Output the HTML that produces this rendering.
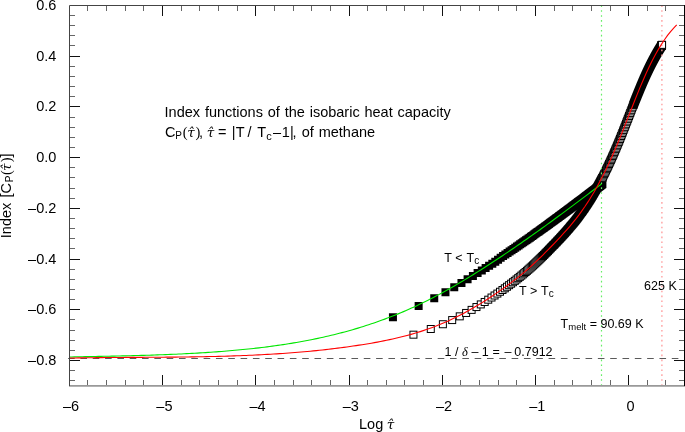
<!DOCTYPE html>
<html><head><meta charset="utf-8"><style>
html,body{margin:0;padding:0;background:#fff;}
svg{display:block;}
text{font-family:"Liberation Sans",Arial,sans-serif;fill:#000;}
.s{font-family:"Liberation Serif","Times New Roman",serif;}
.si{font-family:"Liberation Serif","Times New Roman",serif;font-style:italic;}
.ti{font-family:"DejaVu Serif","Liberation Serif",serif;font-style:italic;font-size:13.5px;}
</style></head><body>
<svg width="685" height="432" viewBox="0 0 685 432">
<rect width="685" height="432" fill="#fff"/>
<line x1="68.1" y1="358.5" x2="684" y2="358.5" stroke="#5a5a5a" stroke-width="1.15" stroke-dasharray="6.6 5.72"/>
<path d="M388.94 313.16h8v8h-8zM414.64 302.00h8v8h-8zM430.24 294.21h8v8h-8zM441.47 288.15h8v8h-8zM450.26 283.18h8v8h-8zM457.47 278.96h8v8h-8zM463.59 275.28h8v8h-8zM468.90 272.02h8v8h-8zM473.60 269.09h8v8h-8zM477.81 266.43h8v8h-8zM481.62 263.99h8v8h-8zM485.11 261.74h8v8h-8zM488.32 259.65h8v8h-8zM491.29 257.69h8v8h-8zM494.06 255.86h8v8h-8zM496.65 253.64h8v8h-8zM499.09 252.01h8v8h-8zM501.38 250.47h8v8h-8zM503.56 249.00h8v8h-8zM505.62 247.60h8v8h-8zM507.58 246.27h8v8h-8zM509.46 244.99h8v8h-8zM511.25 243.76h8v8h-8zM512.96 242.58h8v8h-8zM514.60 241.44h8v8h-8zM516.18 240.35h8v8h-8zM517.70 239.29h8v8h-8zM519.17 238.27h8v8h-8zM520.58 237.29h8v8h-8zM521.95 236.33h8v8h-8zM523.27 235.40h8v8h-8zM524.55 234.50h8v8h-8zM525.79 233.63h8v8h-8zM527.00 232.78h8v8h-8zM528.17 231.95h8v8h-8zM529.30 231.14h8v8h-8zM530.41 230.36h8v8h-8zM531.49 229.59h8v8h-8zM532.53 228.85h8v8h-8zM533.56 228.12h8v8h-8zM534.55 227.40h8v8h-8zM535.53 226.71h8v8h-8zM536.48 226.02h8v8h-8zM537.40 225.36h8v8h-8zM538.31 224.70h8v8h-8zM539.20 224.07h8v8h-8zM540.07 223.44h8v8h-8zM540.92 222.82h8v8h-8zM541.75 222.22h8v8h-8zM542.57 221.63h8v8h-8zM543.37 221.05h8v8h-8zM544.15 220.48h8v8h-8zM544.92 219.92h8v8h-8zM545.67 219.37h8v8h-8zM546.41 218.83h8v8h-8zM547.14 218.30h8v8h-8zM547.86 217.78h8v8h-8zM548.56 217.26h8v8h-8zM549.25 216.76h8v8h-8zM549.93 216.26h8v8h-8zM550.60 215.77h8v8h-8zM551.25 215.29h8v8h-8zM551.90 214.81h8v8h-8zM552.54 214.35h8v8h-8zM553.16 213.88h8v8h-8zM553.78 213.43h8v8h-8zM554.39 212.98h8v8h-8zM554.99 212.54h8v8h-8zM555.58 212.11h8v8h-8zM556.16 211.68h8v8h-8zM556.73 211.25h8v8h-8zM557.30 210.83h8v8h-8zM557.86 210.42h8v8h-8zM558.41 210.02h8v8h-8zM558.95 209.61h8v8h-8zM559.48 209.22h8v8h-8zM560.01 208.82h8v8h-8zM560.53 208.44h8v8h-8zM561.05 208.06h8v8h-8zM561.56 207.68h8v8h-8zM562.06 207.30h8v8h-8zM562.55 206.94h8v8h-8zM563.04 206.57h8v8h-8zM563.53 206.21h8v8h-8zM564.01 205.86h8v8h-8zM564.48 205.50h8v8h-8zM564.95 205.15h8v8h-8zM565.41 204.81h8v8h-8zM565.87 204.47h8v8h-8zM566.32 204.13h8v8h-8zM566.77 203.80h8v8h-8zM567.21 203.47h8v8h-8zM567.64 203.14h8v8h-8zM568.08 202.82h8v8h-8zM568.50 202.50h8v8h-8zM568.93 202.18h8v8h-8zM569.35 201.87h8v8h-8zM569.76 201.56h8v8h-8zM570.17 201.25h8v8h-8zM570.58 200.95h8v8h-8zM570.98 200.65h8v8h-8zM571.38 200.35h8v8h-8zM571.77 200.05h8v8h-8zM572.16 199.76h8v8h-8zM572.55 199.47h8v8h-8zM572.93 199.18h8v8h-8zM573.31 198.90h8v8h-8zM573.69 198.62h8v8h-8zM574.06 198.34h8v8h-8zM574.43 198.06h8v8h-8zM574.80 197.79h8v8h-8zM575.16 197.51h8v8h-8zM575.52 197.24h8v8h-8zM575.88 196.98h8v8h-8zM576.23 196.71h8v8h-8zM576.58 196.45h8v8h-8zM576.93 196.19h8v8h-8zM577.27 195.93h8v8h-8zM577.61 195.67h8v8h-8zM577.95 195.42h8v8h-8zM578.29 195.16h8v8h-8zM578.62 194.91h8v8h-8zM578.95 194.67h8v8h-8zM579.28 194.42h8v8h-8zM579.60 194.17h8v8h-8zM579.93 193.93h8v8h-8zM580.25 193.69h8v8h-8zM580.56 193.45h8v8h-8zM580.88 193.22h8v8h-8zM581.19 192.98h8v8h-8zM581.50 192.75h8v8h-8zM581.81 192.52h8v8h-8zM582.11 192.29h8v8h-8zM582.42 192.06h8v8h-8zM582.72 191.83h8v8h-8zM583.01 191.61h8v8h-8zM583.31 191.38h8v8h-8zM583.61 191.16h8v8h-8zM583.90 190.94h8v8h-8zM584.19 190.72h8v8h-8zM584.48 190.51h8v8h-8zM584.76 190.29h8v8h-8zM585.04 190.08h8v8h-8zM585.33 189.86h8v8h-8zM585.61 189.65h8v8h-8zM585.88 189.44h8v8h-8zM586.16 189.23h8v8h-8zM586.44 189.03h8v8h-8zM586.71 188.82h8v8h-8zM586.98 188.62h8v8h-8zM587.25 188.42h8v8h-8zM587.51 188.21h8v8h-8zM587.78 188.01h8v8h-8zM588.04 187.81h8v8h-8zM588.30 187.62h8v8h-8zM588.56 187.42h8v8h-8zM588.82 187.23h8v8h-8zM589.08 187.03h8v8h-8zM589.34 186.84h8v8h-8zM589.59 186.65h8v8h-8zM589.84 186.46h8v8h-8zM590.09 186.27h8v8h-8zM590.34 186.08h8v8h-8zM590.59 185.89h8v8h-8zM590.83 185.71h8v8h-8zM591.08 185.52h8v8h-8zM591.32 185.34h8v8h-8zM591.56 185.16h8v8h-8zM591.80 184.98h8v8h-8zM592.04 184.80h8v8h-8zM592.28 184.62h8v8h-8zM592.52 184.44h8v8h-8zM592.75 184.26h8v8h-8zM592.98 184.09h8v8h-8zM593.21 183.91h8v8h-8zM593.45 183.74h8v8h-8zM593.67 183.56h8v8h-8zM593.90 183.39h8v8h-8zM594.13 183.22h8v8h-8zM594.35 183.05h8v8h-8zM594.58 182.88h8v8h-8zM594.80 182.71h8v8h-8zM595.02 182.55h8v8h-8zM595.24 182.38h8v8h-8zM595.46 182.21h8v8h-8zM595.68 182.05h8v8h-8zM595.90 181.89h8v8h-8zM596.11 181.72h8v8h-8zM596.33 181.56h8v8h-8zM596.54 181.40h8v8h-8zM596.75 181.24h8v8h-8zM596.97 181.08h8v8h-8zM597.18 180.92h8v8h-8zM597.39 180.76h8v8h-8zM597.59 180.61h8v8h-8zM597.80 180.45h8v8h-8zM598.01 180.29h8v8h-8zM598.21 180.14h8v8h-8zM598.41 179.99h8v8h-8z" fill="#000"/>
<g fill="#fff" stroke="#000" stroke-width="1"><rect x="409.95" y="331.18" width="7" height="7"/><rect x="427.28" y="325.50" width="7" height="7"/><rect x="439.38" y="320.74" width="7" height="7"/><rect x="448.68" y="316.57" width="7" height="7"/><rect x="456.24" y="312.84" width="7" height="7"/><rect x="462.61" y="309.46" width="7" height="7"/><rect x="468.11" y="306.38" width="7" height="7"/><rect x="472.95" y="303.55" width="7" height="7"/><rect x="477.28" y="300.92" width="7" height="7"/><rect x="481.18" y="298.48" width="7" height="7"/><rect x="484.74" y="296.19" width="7" height="7"/><rect x="488.02" y="294.04" width="7" height="7"/><rect x="491.05" y="292.00" width="7" height="7"/><rect x="493.87" y="290.08" width="7" height="7"/><rect x="496.50" y="288.25" width="7" height="7"/><rect x="498.98" y="286.50" width="7" height="7"/><rect x="501.31" y="284.83" width="7" height="7"/><rect x="503.51" y="283.23" width="7" height="7"/><rect x="505.60" y="281.68" width="7" height="7"/><rect x="507.59" y="280.19" width="7" height="7"/><rect x="509.48" y="278.74" width="7" height="7"/><rect x="511.29" y="277.34" width="7" height="7"/><rect x="513.03" y="275.98" width="7" height="7"/><rect x="514.69" y="274.65" width="7" height="7"/><rect x="516.28" y="273.36" width="7" height="7"/><rect x="517.82" y="272.11" width="7" height="7"/><rect x="519.30" y="270.88" width="7" height="7"/><rect x="520.73" y="269.68" width="7" height="7"/><rect x="522.11" y="268.50" width="7" height="7"/><rect x="523.44" y="267.35" width="7" height="7"/><rect x="524.73" y="266.22" width="7" height="7"/><rect x="525.98" y="265.12" width="7" height="7"/><rect x="527.19" y="264.03" width="7" height="7"/><rect x="528.37" y="262.96" width="7" height="7"/><rect x="529.52" y="261.92" width="7" height="7"/><rect x="530.63" y="260.89" width="7" height="7"/><rect x="531.71" y="259.88" width="7" height="7"/><rect x="532.77" y="258.88" width="7" height="7"/><rect x="533.80" y="257.91" width="7" height="7"/><rect x="534.80" y="256.95" width="7" height="7"/><rect x="535.78" y="256.01" width="7" height="7"/><rect x="536.73" y="255.08" width="7" height="7"/><rect x="537.67" y="254.17" width="7" height="7"/></g>
<path d="M538.08 252.77h8v8h-8zM538.97 251.89h8v8h-8zM539.85 251.03h8v8h-8zM540.70 250.17h8v8h-8zM541.54 249.33h8v8h-8zM542.36 248.51h8v8h-8zM543.16 247.69h8v8h-8zM543.95 246.89h8v8h-8zM544.72 246.10h8v8h-8zM545.48 245.33h8v8h-8zM546.23 244.56h8v8h-8zM546.96 243.80h8v8h-8zM547.68 243.06h8v8h-8zM548.38 242.33h8v8h-8zM549.08 241.61h8v8h-8zM549.76 240.89h8v8h-8zM550.43 240.19h8v8h-8zM551.09 239.50h8v8h-8zM551.74 238.81h8v8h-8zM552.38 238.14h8v8h-8zM553.00 237.47h8v8h-8zM553.62 236.82h8v8h-8zM554.23 236.17h8v8h-8zM554.84 235.53h8v8h-8zM555.43 234.89h8v8h-8zM556.01 234.27h8v8h-8zM556.59 233.65h8v8h-8zM557.15 233.03h8v8h-8zM557.71 232.42h8v8h-8zM558.27 231.82h8v8h-8zM558.81 231.23h8v8h-8zM559.35 230.63h8v8h-8zM559.88 230.05h8v8h-8zM560.40 229.47h8v8h-8zM560.92 228.89h8v8h-8zM561.43 228.32h8v8h-8zM561.93 227.75h8v8h-8zM562.43 227.19h8v8h-8zM562.92 226.63h8v8h-8zM563.41 226.08h8v8h-8zM563.89 225.53h8v8h-8zM564.36 224.98h8v8h-8zM564.83 224.44h8v8h-8zM565.29 223.89h8v8h-8zM565.75 223.36h8v8h-8zM566.20 222.82h8v8h-8zM566.65 222.29h8v8h-8zM567.09 221.76h8v8h-8zM567.53 221.24h8v8h-8zM567.97 220.72h8v8h-8zM568.40 220.20h8v8h-8zM568.82 219.68h8v8h-8zM569.24 219.17h8v8h-8zM569.66 218.65h8v8h-8zM570.07 218.15h8v8h-8zM570.47 217.64h8v8h-8zM570.88 217.13h8v8h-8zM571.28 216.63h8v8h-8zM571.67 216.13h8v8h-8zM572.06 215.63h8v8h-8zM572.45 215.13h8v8h-8zM572.84 214.64h8v8h-8zM573.22 214.15h8v8h-8zM573.59 213.66h8v8h-8zM573.97 213.17h8v8h-8zM574.34 212.68h8v8h-8zM574.71 212.19h8v8h-8zM575.07 211.71h8v8h-8zM575.43 211.23h8v8h-8zM575.79 210.75h8v8h-8zM576.14 210.27h8v8h-8zM576.49 209.79h8v8h-8zM576.84 209.31h8v8h-8zM577.18 208.84h8v8h-8zM577.53 208.37h8v8h-8zM577.87 207.89h8v8h-8zM578.20 207.42h8v8h-8zM578.54 206.95h8v8h-8zM578.87 206.49h8v8h-8zM579.19 206.02h8v8h-8zM579.52 205.55h8v8h-8zM579.84 205.09h8v8h-8zM580.16 204.63h8v8h-8zM580.48 204.17h8v8h-8zM580.80 203.71h8v8h-8zM581.11 203.25h8v8h-8zM581.42 202.79h8v8h-8zM581.73 202.33h8v8h-8zM582.03 201.87h8v8h-8zM582.34 201.42h8v8h-8zM582.64 200.97h8v8h-8zM582.94 200.51h8v8h-8zM583.24 200.06h8v8h-8zM583.53 199.61h8v8h-8zM583.82 199.16h8v8h-8zM584.11 198.71h8v8h-8zM584.40 198.26h8v8h-8zM584.69 197.82h8v8h-8zM584.97 197.37h8v8h-8zM585.25 196.92h8v8h-8zM585.54 196.48h8v8h-8zM585.81 196.04h8v8h-8zM586.09 195.59h8v8h-8zM586.37 195.15h8v8h-8zM586.64 194.71h8v8h-8zM586.91 194.27h8v8h-8zM587.18 193.83h8v8h-8zM587.45 193.39h8v8h-8zM587.71 192.95h8v8h-8zM587.98 192.52h8v8h-8zM588.24 192.08h8v8h-8zM588.50 191.65h8v8h-8zM588.76 191.21h8v8h-8zM589.01 190.78h8v8h-8zM589.27 190.34h8v8h-8zM589.52 189.91h8v8h-8zM589.78 189.48h8v8h-8zM590.03 189.05h8v8h-8zM590.28 188.62h8v8h-8zM590.53 188.19h8v8h-8zM590.77 187.76h8v8h-8zM591.02 187.34h8v8h-8zM591.26 186.91h8v8h-8zM591.50 186.49h8v8h-8zM591.74 186.06h8v8h-8zM591.98 185.64h8v8h-8zM592.22 185.22h8v8h-8zM592.45 184.79h8v8h-8zM592.69 184.37h8v8h-8zM592.92 183.95h8v8h-8zM593.16 183.53h8v8h-8zM593.39 183.12h8v8h-8zM593.62 182.70h8v8h-8zM593.84 182.28h8v8h-8zM594.07 181.86h8v8h-8zM594.30 181.45h8v8h-8zM594.52 181.04h8v8h-8zM594.74 180.62h8v8h-8zM594.97 180.21h8v8h-8zM595.19 179.80h8v8h-8zM595.41 179.39h8v8h-8zM595.63 178.98h8v8h-8zM595.84 178.57h8v8h-8zM596.06 178.16h8v8h-8zM596.27 177.75h8v8h-8zM596.49 177.35h8v8h-8zM596.70 176.94h8v8h-8zM596.91 176.54h8v8h-8zM597.12 176.13h8v8h-8zM597.33 175.73h8v8h-8zM597.54 175.33h8v8h-8zM597.75 174.92h8v8h-8zM597.95 174.52h8v8h-8zM598.16 174.12h8v8h-8z" fill="#000"/>
<g fill="#fff" stroke="#000" stroke-width="1"><rect x="598.86" y="174.22" width="7" height="7"/><rect x="599.47" y="173.03" width="7" height="7"/><rect x="600.07" y="171.83" width="7" height="7"/><rect x="600.68" y="170.62" width="7" height="7"/><rect x="601.29" y="169.39" width="7" height="7"/><rect x="601.89" y="168.16" width="7" height="7"/><rect x="602.50" y="166.92" width="7" height="7"/><rect x="603.10" y="165.66" width="7" height="7"/><rect x="603.71" y="164.40" width="7" height="7"/><rect x="604.32" y="163.12" width="7" height="7"/><rect x="604.92" y="161.84" width="7" height="7"/><rect x="605.53" y="160.54" width="7" height="7"/><rect x="606.13" y="159.24" width="7" height="7"/><rect x="606.74" y="157.92" width="7" height="7"/><rect x="607.35" y="156.59" width="7" height="7"/><rect x="607.95" y="155.26" width="7" height="7"/><rect x="608.56" y="153.91" width="7" height="7"/><rect x="609.16" y="152.55" width="7" height="7"/><rect x="609.77" y="151.19" width="7" height="7"/><rect x="610.38" y="149.81" width="7" height="7"/><rect x="610.98" y="148.42" width="7" height="7"/><rect x="611.59" y="147.02" width="7" height="7"/><rect x="612.19" y="145.61" width="7" height="7"/><rect x="612.80" y="144.20" width="7" height="7"/><rect x="613.41" y="142.77" width="7" height="7"/><rect x="614.01" y="141.33" width="7" height="7"/><rect x="614.62" y="139.88" width="7" height="7"/><rect x="615.22" y="138.42" width="7" height="7"/><rect x="615.83" y="136.95" width="7" height="7"/><rect x="616.44" y="135.47" width="7" height="7"/><rect x="617.04" y="133.99" width="7" height="7"/><rect x="617.65" y="132.49" width="7" height="7"/><rect x="618.25" y="130.99" width="7" height="7"/><rect x="618.86" y="129.47" width="7" height="7"/><rect x="619.47" y="127.95" width="7" height="7"/><rect x="620.07" y="126.43" width="7" height="7"/><rect x="620.68" y="124.90" width="7" height="7"/><rect x="621.28" y="123.36" width="7" height="7"/><rect x="621.89" y="121.82" width="7" height="7"/><rect x="622.50" y="120.28" width="7" height="7"/><rect x="623.10" y="118.73" width="7" height="7"/><rect x="623.71" y="117.19" width="7" height="7"/><rect x="624.31" y="115.63" width="7" height="7"/><rect x="624.92" y="114.08" width="7" height="7"/><rect x="625.53" y="112.53" width="7" height="7"/><rect x="626.13" y="110.98" width="7" height="7"/><rect x="626.74" y="109.43" width="7" height="7"/><rect x="627.34" y="107.88" width="7" height="7"/><rect x="627.95" y="106.33" width="7" height="7"/><rect x="628.56" y="104.78" width="7" height="7"/><rect x="629.16" y="103.24" width="7" height="7"/><rect x="629.77" y="101.70" width="7" height="7"/></g>
<path d="M629.48 100.67h8v8h-8zM629.57 100.43h8v8h-8zM629.67 100.19h8v8h-8zM629.76 99.95h8v8h-8zM629.85 99.72h8v8h-8zM629.95 99.48h8v8h-8zM630.04 99.25h8v8h-8zM630.13 99.01h8v8h-8zM630.23 98.78h8v8h-8zM630.32 98.54h8v8h-8zM630.41 98.31h8v8h-8zM630.50 98.08h8v8h-8zM630.60 97.85h8v8h-8zM630.69 97.62h8v8h-8zM630.78 97.39h8v8h-8zM630.87 97.16h8v8h-8zM630.96 96.93h8v8h-8zM631.05 96.70h8v8h-8zM631.14 96.47h8v8h-8zM631.23 96.24h8v8h-8zM631.32 96.02h8v8h-8zM631.41 95.79h8v8h-8zM631.50 95.57h8v8h-8zM631.59 95.34h8v8h-8zM631.68 95.12h8v8h-8zM631.77 94.90h8v8h-8zM631.86 94.67h8v8h-8zM631.95 94.45h8v8h-8zM632.04 94.23h8v8h-8zM632.13 94.01h8v8h-8zM632.22 93.79h8v8h-8zM632.30 93.57h8v8h-8zM632.39 93.35h8v8h-8zM632.48 93.14h8v8h-8zM632.57 92.92h8v8h-8zM632.66 92.70h8v8h-8zM632.74 92.49h8v8h-8zM632.83 92.27h8v8h-8zM632.92 92.05h8v8h-8zM633.00 91.84h8v8h-8zM633.09 91.63h8v8h-8zM633.18 91.41h8v8h-8zM633.26 91.20h8v8h-8zM633.35 90.99h8v8h-8zM633.43 90.78h8v8h-8zM633.52 90.57h8v8h-8zM633.60 90.36h8v8h-8zM633.69 90.15h8v8h-8zM633.77 89.94h8v8h-8zM633.86 89.73h8v8h-8zM633.94 89.52h8v8h-8zM634.03 89.32h8v8h-8zM634.11 89.11h8v8h-8zM634.20 88.90h8v8h-8zM634.28 88.70h8v8h-8zM634.36 88.49h8v8h-8zM634.45 88.29h8v8h-8zM634.53 88.09h8v8h-8zM634.61 87.88h8v8h-8zM634.70 87.68h8v8h-8zM634.78 87.48h8v8h-8zM634.86 87.28h8v8h-8zM634.95 87.08h8v8h-8zM635.03 86.88h8v8h-8zM635.11 86.68h8v8h-8zM635.19 86.48h8v8h-8zM635.27 86.28h8v8h-8zM635.36 86.08h8v8h-8zM635.44 85.89h8v8h-8zM635.52 85.69h8v8h-8zM635.60 85.49h8v8h-8zM635.68 85.30h8v8h-8zM635.76 85.10h8v8h-8zM635.84 84.91h8v8h-8zM635.92 84.71h8v8h-8zM636.00 84.52h8v8h-8zM636.08 84.33h8v8h-8zM636.16 84.14h8v8h-8zM636.24 83.95h8v8h-8zM636.32 83.75h8v8h-8zM636.40 83.56h8v8h-8zM636.48 83.37h8v8h-8zM636.56 83.18h8v8h-8zM636.64 83.00h8v8h-8zM636.72 82.81h8v8h-8zM636.80 82.62h8v8h-8zM636.88 82.43h8v8h-8zM636.96 82.25h8v8h-8zM637.04 82.06h8v8h-8zM637.11 81.87h8v8h-8zM637.19 81.69h8v8h-8zM637.27 81.50h8v8h-8zM637.35 81.32h8v8h-8zM637.43 81.14h8v8h-8zM637.50 80.95h8v8h-8zM637.58 80.77h8v8h-8zM637.66 80.59h8v8h-8zM637.73 80.41h8v8h-8zM637.81 80.23h8v8h-8zM637.89 80.05h8v8h-8zM637.96 79.87h8v8h-8zM638.04 79.69h8v8h-8zM638.12 79.51h8v8h-8zM638.19 79.33h8v8h-8zM638.27 79.15h8v8h-8zM638.35 78.97h8v8h-8zM638.42 78.80h8v8h-8zM638.50 78.62h8v8h-8zM638.57 78.44h8v8h-8zM638.65 78.27h8v8h-8zM638.72 78.09h8v8h-8zM638.80 77.92h8v8h-8zM638.87 77.75h8v8h-8zM638.95 77.57h8v8h-8zM639.02 77.40h8v8h-8zM639.10 77.23h8v8h-8zM639.17 77.06h8v8h-8zM639.25 76.89h8v8h-8zM639.32 76.71h8v8h-8zM639.39 76.54h8v8h-8zM639.47 76.37h8v8h-8zM639.54 76.20h8v8h-8zM639.61 76.04h8v8h-8zM639.69 75.87h8v8h-8zM639.76 75.70h8v8h-8zM639.83 75.53h8v8h-8zM639.91 75.36h8v8h-8zM639.98 75.20h8v8h-8zM640.05 75.03h8v8h-8zM640.13 74.87h8v8h-8zM640.20 74.70h8v8h-8zM640.27 74.54h8v8h-8zM640.34 74.37h8v8h-8zM640.42 74.21h8v8h-8zM640.49 74.05h8v8h-8zM640.56 73.88h8v8h-8zM640.63 73.72h8v8h-8zM640.70 73.56h8v8h-8zM640.77 73.40h8v8h-8zM640.85 73.24h8v8h-8zM640.92 73.08h8v8h-8zM640.99 72.92h8v8h-8zM641.06 72.76h8v8h-8zM641.13 72.60h8v8h-8zM641.20 72.45h8v8h-8zM641.27 72.29h8v8h-8zM641.34 72.14h8v8h-8zM641.41 71.98h8v8h-8zM641.48 71.83h8v8h-8zM641.55 71.67h8v8h-8zM641.62 71.52h8v8h-8zM641.69 71.37h8v8h-8zM641.76 71.21h8v8h-8zM641.83 71.06h8v8h-8zM641.90 70.91h8v8h-8zM641.97 70.76h8v8h-8zM642.04 70.61h8v8h-8zM642.11 70.46h8v8h-8zM642.18 70.31h8v8h-8zM642.25 70.16h8v8h-8zM642.32 70.01h8v8h-8zM642.38 69.86h8v8h-8zM642.45 69.71h8v8h-8zM642.52 69.56h8v8h-8zM642.59 69.42h8v8h-8zM642.66 69.27h8v8h-8zM642.73 69.12h8v8h-8zM642.79 68.98h8v8h-8zM642.86 68.83h8v8h-8zM642.93 68.69h8v8h-8zM643.00 68.54h8v8h-8zM643.07 68.40h8v8h-8zM643.13 68.25h8v8h-8zM643.20 68.11h8v8h-8zM643.27 67.97h8v8h-8zM643.33 67.82h8v8h-8zM643.40 67.68h8v8h-8zM643.47 67.54h8v8h-8zM643.53 67.40h8v8h-8zM643.60 67.26h8v8h-8zM643.67 67.12h8v8h-8zM643.73 66.98h8v8h-8zM643.80 66.84h8v8h-8zM643.87 66.70h8v8h-8zM643.93 66.56h8v8h-8zM644.00 66.42h8v8h-8zM644.07 66.28h8v8h-8zM644.13 66.14h8v8h-8zM644.20 66.01h8v8h-8zM644.26 65.87h8v8h-8zM644.33 65.73h8v8h-8zM644.39 65.60h8v8h-8zM644.46 65.46h8v8h-8zM644.52 65.32h8v8h-8zM644.59 65.19h8v8h-8zM644.65 65.06h8v8h-8zM644.72 64.92h8v8h-8zM644.78 64.79h8v8h-8zM644.85 64.65h8v8h-8zM644.91 64.52h8v8h-8zM644.98 64.39h8v8h-8zM645.04 64.26h8v8h-8zM645.11 64.12h8v8h-8zM645.17 63.99h8v8h-8zM645.23 63.86h8v8h-8zM645.30 63.73h8v8h-8zM645.36 63.60h8v8h-8zM645.42 63.47h8v8h-8zM645.49 63.34h8v8h-8zM645.55 63.21h8v8h-8zM645.62 63.08h8v8h-8zM645.68 62.95h8v8h-8zM645.74 62.82h8v8h-8zM645.81 62.70h8v8h-8zM645.87 62.57h8v8h-8zM645.93 62.44h8v8h-8zM645.99 62.31h8v8h-8zM646.06 62.19h8v8h-8zM646.12 62.06h8v8h-8zM646.18 61.94h8v8h-8zM646.24 61.81h8v8h-8zM646.31 61.68h8v8h-8zM646.37 61.56h8v8h-8zM646.43 61.44h8v8h-8zM646.49 61.31h8v8h-8zM646.56 61.19h8v8h-8zM646.62 61.06h8v8h-8zM646.68 60.94h8v8h-8zM646.74 60.82h8v8h-8zM646.80 60.70h8v8h-8zM646.86 60.57h8v8h-8zM646.92 60.45h8v8h-8zM646.99 60.33h8v8h-8zM647.05 60.21h8v8h-8zM647.11 60.09h8v8h-8zM647.17 59.97h8v8h-8zM647.23 59.85h8v8h-8zM647.29 59.73h8v8h-8zM647.35 59.61h8v8h-8zM647.41 59.49h8v8h-8zM647.47 59.37h8v8h-8zM647.53 59.25h8v8h-8zM647.59 59.14h8v8h-8zM647.65 59.02h8v8h-8zM647.71 58.90h8v8h-8zM647.78 58.78h8v8h-8zM647.84 58.67h8v8h-8zM647.90 58.55h8v8h-8zM647.95 58.43h8v8h-8zM648.01 58.32h8v8h-8zM648.07 58.20h8v8h-8zM648.13 58.09h8v8h-8zM648.19 57.97h8v8h-8zM648.25 57.86h8v8h-8zM648.31 57.74h8v8h-8zM648.37 57.63h8v8h-8zM648.43 57.52h8v8h-8zM648.49 57.40h8v8h-8zM648.55 57.29h8v8h-8zM648.61 57.18h8v8h-8zM648.67 57.07h8v8h-8zM648.73 56.95h8v8h-8zM648.78 56.84h8v8h-8zM648.84 56.73h8v8h-8zM648.90 56.62h8v8h-8zM648.96 56.51h8v8h-8zM649.02 56.40h8v8h-8zM649.08 56.29h8v8h-8zM649.13 56.18h8v8h-8zM649.19 56.07h8v8h-8zM649.25 55.96h8v8h-8zM649.31 55.85h8v8h-8zM649.37 55.74h8v8h-8zM649.42 55.63h8v8h-8zM649.48 55.52h8v8h-8zM649.54 55.42h8v8h-8zM649.60 55.31h8v8h-8zM649.65 55.20h8v8h-8zM649.71 55.09h8v8h-8zM649.77 54.99h8v8h-8zM649.83 54.88h8v8h-8zM649.88 54.77h8v8h-8zM649.94 54.67h8v8h-8zM650.00 54.56h8v8h-8zM650.05 54.46h8v8h-8zM650.11 54.35h8v8h-8zM650.17 54.25h8v8h-8zM650.22 54.14h8v8h-8zM650.28 54.04h8v8h-8zM650.34 53.93h8v8h-8zM650.39 53.83h8v8h-8zM650.45 53.73h8v8h-8zM650.50 53.62h8v8h-8zM650.56 53.52h8v8h-8zM650.62 53.42h8v8h-8zM650.67 53.32h8v8h-8zM650.73 53.21h8v8h-8zM650.78 53.11h8v8h-8zM650.84 53.01h8v8h-8zM650.90 52.91h8v8h-8zM650.95 52.81h8v8h-8zM651.01 52.71h8v8h-8zM651.06 52.61h8v8h-8zM651.12 52.51h8v8h-8zM651.17 52.41h8v8h-8zM651.23 52.31h8v8h-8zM651.28 52.21h8v8h-8zM651.34 52.11h8v8h-8zM651.39 52.01h8v8h-8zM651.45 51.91h8v8h-8zM651.50 51.81h8v8h-8zM651.56 51.71h8v8h-8zM651.61 51.62h8v8h-8zM651.67 51.52h8v8h-8zM651.72 51.42h8v8h-8zM651.78 51.32h8v8h-8zM651.83 51.23h8v8h-8zM651.89 51.13h8v8h-8zM651.94 51.03h8v8h-8zM651.99 50.94h8v8h-8zM652.05 50.84h8v8h-8zM652.10 50.75h8v8h-8zM652.16 50.65h8v8h-8zM652.21 50.56h8v8h-8zM652.26 50.46h8v8h-8zM652.32 50.37h8v8h-8zM652.37 50.27h8v8h-8zM652.42 50.18h8v8h-8zM652.48 50.08h8v8h-8zM652.53 49.99h8v8h-8zM652.58 49.90h8v8h-8zM652.64 49.80h8v8h-8zM652.69 49.71h8v8h-8zM652.74 49.62h8v8h-8zM652.80 49.52h8v8h-8zM652.85 49.43h8v8h-8zM652.90 49.34h8v8h-8zM652.96 49.25h8v8h-8zM653.01 49.16h8v8h-8zM653.06 49.07h8v8h-8zM653.11 48.97h8v8h-8zM653.17 48.88h8v8h-8zM653.22 48.79h8v8h-8zM653.27 48.70h8v8h-8zM653.33 48.61h8v8h-8zM653.38 48.52h8v8h-8zM653.43 48.43h8v8h-8zM653.48 48.34h8v8h-8zM653.53 48.25h8v8h-8zM653.59 48.16h8v8h-8zM653.64 48.08h8v8h-8zM653.69 47.99h8v8h-8zM653.74 47.90h8v8h-8zM653.79 47.81h8v8h-8zM653.85 47.72h8v8h-8zM653.90 47.63h8v8h-8zM653.95 47.55h8v8h-8zM654.00 47.46h8v8h-8zM654.05 47.37h8v8h-8zM654.10 47.29h8v8h-8zM654.15 47.20h8v8h-8zM654.21 47.11h8v8h-8zM654.26 47.03h8v8h-8zM654.31 46.94h8v8h-8zM654.36 46.85h8v8h-8zM654.41 46.77h8v8h-8zM654.46 46.68h8v8h-8zM654.51 46.60h8v8h-8zM654.56 46.51h8v8h-8zM654.61 46.43h8v8h-8zM654.66 46.34h8v8h-8zM654.72 46.26h8v8h-8zM654.77 46.18h8v8h-8zM654.82 46.09h8v8h-8zM654.87 46.01h8v8h-8zM654.92 45.93h8v8h-8zM654.97 45.84h8v8h-8zM655.02 45.76h8v8h-8zM655.07 45.68h8v8h-8zM655.12 45.59h8v8h-8zM655.17 45.51h8v8h-8zM655.22 45.43h8v8h-8zM655.27 45.35h8v8h-8zM655.32 45.27h8v8h-8zM655.37 45.18h8v8h-8zM655.42 45.10h8v8h-8zM655.47 45.02h8v8h-8zM655.52 44.94h8v8h-8zM655.57 44.86h8v8h-8zM655.62 44.78h8v8h-8zM655.67 44.70h8v8h-8zM655.72 44.62h8v8h-8zM655.76 44.54h8v8h-8zM655.81 44.46h8v8h-8zM655.86 44.38h8v8h-8zM655.91 44.30h8v8h-8zM655.96 44.22h8v8h-8zM656.01 44.14h8v8h-8zM656.06 44.06h8v8h-8zM656.11 43.98h8v8h-8zM656.16 43.90h8v8h-8zM656.21 43.82h8v8h-8zM656.25 43.74h8v8h-8zM656.30 43.66h8v8h-8zM656.35 43.58h8v8h-8zM656.40 43.50h8v8h-8zM656.45 43.42h8v8h-8zM656.50 43.34h8v8h-8zM656.55 43.27h8v8h-8zM656.59 43.19h8v8h-8zM656.64 43.11h8v8h-8zM656.69 43.03h8v8h-8zM656.74 42.95h8v8h-8zM656.79 42.88h8v8h-8zM656.84 42.80h8v8h-8zM656.88 42.72h8v8h-8zM656.93 42.64h8v8h-8zM656.98 42.57h8v8h-8zM657.03 42.49h8v8h-8zM657.07 42.41h8v8h-8zM657.12 42.34h8v8h-8zM657.17 42.26h8v8h-8zM657.22 42.19h8v8h-8zM657.27 42.11h8v8h-8zM657.31 42.03h8v8h-8zM657.36 41.96h8v8h-8zM657.41 41.88h8v8h-8zM657.46 41.81h8v8h-8zM657.50 41.73h8v8h-8zM657.55 41.66h8v8h-8z" fill="#000"/>
<g fill="#fff" stroke="#000" stroke-width="1"><rect x="658.10" y="42.09" width="7" height="7"/><rect x="658.14" y="42.01" width="7" height="7"/><rect x="658.19" y="41.94" width="7" height="7"/><rect x="658.24" y="41.86" width="7" height="7"/><rect x="658.29" y="41.79" width="7" height="7"/><rect x="658.33" y="41.72" width="7" height="7"/><rect x="658.38" y="41.64" width="7" height="7"/><rect x="658.43" y="41.57" width="7" height="7"/><rect x="658.47" y="41.50" width="7" height="7"/><rect x="658.52" y="41.42" width="7" height="7"/><rect x="658.57" y="41.35" width="7" height="7"/></g>
<line x1="601.5" y1="5.3" x2="601.5" y2="385" stroke="#6e6" stroke-width="1.2" stroke-dasharray="1.6 3.32"/>
<line x1="661.9" y1="5.3" x2="661.9" y2="385" stroke="#f99" stroke-width="1.3" stroke-dasharray="1.6 3.32"/>
<path d="M69.00,356.98 L71.68,356.93 L74.35,356.88 L77.03,356.82 L79.70,356.77 L82.38,356.72 L85.06,356.67 L87.73,356.61 L90.41,356.56 L93.08,356.51 L95.76,356.46 L98.43,356.41 L101.11,356.35 L103.79,356.30 L106.46,356.25 L109.14,356.19 L111.81,356.14 L114.49,356.08 L117.17,356.02 L119.84,355.96 L122.52,355.90 L125.19,355.84 L127.87,355.78 L130.55,355.71 L133.22,355.64 L135.90,355.57 L138.57,355.50 L141.25,355.42 L143.92,355.35 L146.60,355.27 L149.28,355.18 L151.95,355.10 L154.63,355.01 L157.30,354.92 L159.98,354.82 L162.66,354.73 L165.33,354.62 L168.01,354.52 L170.68,354.41 L173.36,354.30 L176.04,354.18 L178.71,354.06 L181.39,353.93 L184.06,353.80 L186.74,353.67 L189.41,353.53 L192.09,353.38 L194.77,353.23 L197.44,353.08 L200.12,352.92 L202.79,352.75 L205.47,352.58 L208.15,352.41 L210.82,352.23 L213.50,352.04 L216.17,351.84 L218.85,351.64 L221.53,351.44 L224.20,351.23 L226.88,351.01 L229.55,350.78 L232.23,350.55 L234.90,350.31 L237.58,350.07 L240.26,349.81 L242.93,349.55 L245.61,349.29 L248.28,349.01 L250.96,348.73 L253.64,348.43 L256.31,348.13 L258.99,347.83 L261.66,347.51 L264.34,347.18 L267.02,346.84 L269.69,346.50 L272.37,346.14 L275.04,345.78 L277.72,345.40 L280.39,345.01 L283.07,344.61 L285.75,344.21 L288.42,343.78 L291.10,343.35 L293.77,342.91 L296.45,342.45 L299.13,341.99 L301.80,341.51 L304.48,341.01 L307.15,340.51 L309.83,339.99 L312.51,339.45 L315.18,338.91 L317.86,338.35 L320.53,337.77 L323.21,337.18 L325.88,336.58 L328.56,335.96 L331.24,335.33 L333.91,334.68 L336.59,334.01 L339.26,333.33 L341.94,332.64 L344.62,331.92 L347.29,331.19 L349.97,330.45 L352.64,329.68 L355.32,328.90 L357.99,328.10 L360.67,327.29 L363.35,326.46 L366.02,325.60 L368.70,324.73 L371.37,323.84 L374.05,322.94 L376.73,322.01 L379.40,321.06 L382.08,320.09 L384.75,319.11 L387.43,318.10 L390.11,317.08 L392.78,316.03 L395.46,314.96 L398.13,313.87 L400.81,312.76 L403.48,311.63 L406.16,310.47 L408.84,309.30 L411.51,308.10 L414.19,306.88 L416.86,305.64 L419.54,304.37 L422.22,303.08 L424.89,301.77 L427.57,300.43 L430.24,299.07 L432.92,297.70 L435.60,296.30 L438.27,294.88 L440.95,293.44 L443.62,291.97 L446.30,290.49 L448.97,289.00 L451.65,287.48 L454.33,285.94 L457.00,284.39 L459.68,282.82 L462.35,281.23 L465.03,279.63 L467.71,278.01 L470.38,276.37 L473.06,274.72 L475.73,273.06 L478.41,271.38 L481.09,269.69 L483.76,267.98 L486.44,266.26 L489.11,264.53 L491.79,262.79 L494.46,261.04 L497.14,259.27 L499.82,257.50 L502.49,255.71 L505.17,253.91 L507.84,252.11 L510.52,250.29 L513.20,248.46 L515.87,246.63 L518.55,244.78 L521.22,242.93 L523.90,241.07 L526.58,239.19 L529.25,237.31 L531.93,235.42 L534.60,233.52 L537.28,231.61 L539.95,229.70 L542.63,227.77 L545.31,225.84 L547.98,223.90 L550.66,221.95 L553.33,220.00 L556.01,218.03 L558.69,216.06 L561.36,214.09 L564.04,212.11 L566.71,210.12 L569.39,208.13 L572.07,206.13 L574.74,204.13 L577.42,202.12 L580.09,200.11 L582.77,198.10 L585.44,196.09 L588.12,194.07 L590.80,192.06 L593.47,190.04 L596.15,188.02 L598.82,186.00 L601.50,183.98" fill="none" stroke="#00e600" stroke-width="1.1"/>
<path d="M69.00,358.07 L72.05,358.02 L75.11,357.96 L78.16,357.91 L81.22,357.86 L84.27,357.82 L87.32,357.77 L90.38,357.73 L93.43,357.70 L96.48,357.66 L99.54,357.63 L102.59,357.60 L105.65,357.57 L108.70,357.55 L111.75,357.52 L114.81,357.50 L117.86,357.48 L120.91,357.46 L123.97,357.44 L127.02,357.42 L130.08,357.40 L133.13,357.38 L136.18,357.37 L139.24,357.35 L142.29,357.33 L145.34,357.31 L148.40,357.29 L151.45,357.27 L154.51,357.25 L157.56,357.23 L160.61,357.21 L163.67,357.19 L166.72,357.16 L169.77,357.14 L172.83,357.11 L175.88,357.08 L178.94,357.05 L181.99,357.01 L185.04,356.97 L188.10,356.93 L191.15,356.89 L194.20,356.85 L197.26,356.80 L200.31,356.74 L203.37,356.69 L206.42,356.63 L209.47,356.57 L212.53,356.50 L215.58,356.43 L218.63,356.35 L221.69,356.27 L224.74,356.19 L227.80,356.10 L230.85,356.00 L233.90,355.90 L236.96,355.79 L240.01,355.68 L243.06,355.56 L246.12,355.44 L249.17,355.31 L252.23,355.18 L255.28,355.04 L258.33,354.89 L261.39,354.73 L264.44,354.57 L267.49,354.40 L270.55,354.22 L273.60,354.04 L276.66,353.85 L279.71,353.65 L282.76,353.44 L285.82,353.23 L288.87,353.00 L291.93,352.77 L294.98,352.53 L298.03,352.28 L301.09,352.02 L304.14,351.75 L307.19,351.47 L310.25,351.19 L313.30,350.89 L316.36,350.58 L319.41,350.27 L322.46,349.94 L325.52,349.60 L328.57,349.26 L331.62,348.90 L334.68,348.53 L337.73,348.15 L340.79,347.76 L343.84,347.35 L346.89,346.94 L349.95,346.51 L353.00,346.08 L356.05,345.63 L359.11,345.16 L362.16,344.69 L365.22,344.20 L368.27,343.70 L371.32,343.18 L374.38,342.64 L377.43,342.09 L380.48,341.51 L383.54,340.91 L386.59,340.30 L389.65,339.65 L392.70,338.99 L395.75,338.29 L398.81,337.57 L401.86,336.82 L404.91,336.03 L407.97,335.22 L411.02,334.37 L414.08,333.49 L417.13,332.58 L420.18,331.62 L423.24,330.63 L426.29,329.60 L429.34,328.52 L432.40,327.41 L435.45,326.25 L438.51,325.05 L441.56,323.80 L444.61,322.50 L447.67,321.15 L450.72,319.76 L453.77,318.31 L456.83,316.81 L459.88,315.26 L462.94,313.67 L465.99,312.03 L469.04,310.34 L472.10,308.60 L475.15,306.82 L478.21,304.99 L481.26,303.12 L484.31,301.21 L487.37,299.26 L490.42,297.26 L493.47,295.23 L496.53,293.16 L499.58,291.04 L502.64,288.89 L505.69,286.69 L508.74,284.45 L511.80,282.15 L514.85,279.80 L517.90,277.38 L520.96,274.90 L524.01,272.36 L527.07,269.74 L530.12,267.04 L533.17,264.27 L536.23,261.42 L539.28,258.51 L542.33,255.52 L545.39,252.48 L548.44,249.39 L551.50,246.25 L554.55,243.06 L557.60,239.84 L560.66,236.57 L563.71,233.23 L566.76,229.81 L569.82,226.28 L572.87,222.62 L575.93,218.81 L578.98,214.83 L582.03,210.66 L585.09,206.28 L588.14,201.67 L591.19,196.80 L594.25,191.67 L597.30,186.27 L600.36,180.60 L603.41,174.66 L606.46,168.46 L609.52,161.99 L612.57,155.26 L615.62,148.28 L618.68,141.03 L621.73,133.54 L624.79,125.86 L627.84,118.07 L630.89,110.25 L633.95,102.48 L637.00,94.84 L640.05,87.40 L643.11,80.20 L646.16,73.30 L649.22,66.76 L652.27,60.58 L655.32,54.79 L658.38,49.38 L661.43,44.35 L664.48,39.70 L667.54,35.43 L670.59,31.55 L673.65,28.05 L676.70,24.94" fill="none" stroke="#f00" stroke-width="1.1"/>
<path d="M87.5 385v-5M87.5 6v5M106.5 385v-5M106.5 6v5M125.5 385v-5M125.5 6v5M143.5 385v-5M143.5 6v5M181.5 385v-5M181.5 6v5M199.5 385v-5M199.5 6v5M218.5 385v-5M218.5 6v5M237.5 385v-5M237.5 6v5M274.5 385v-5M274.5 6v5M293.5 385v-5M293.5 6v5M311.5 385v-5M311.5 6v5M330.5 385v-5M330.5 6v5M367.5 385v-5M367.5 6v5M386.5 385v-5M386.5 6v5M404.5 385v-5M404.5 6v5M423.5 385v-5M423.5 6v5M460.5 385v-5M460.5 6v5M479.5 385v-5M479.5 6v5M498.5 385v-5M498.5 6v5M516.5 385v-5M516.5 6v5M554.5 385v-5M554.5 6v5M572.5 385v-5M572.5 6v5M591.5 385v-5M591.5 6v5M610.5 385v-5M610.5 6v5M647.5 385v-5M647.5 6v5M665.5 385v-5M665.5 6v5M684.5 385v-5M684.5 6v5M70 15.5h5M684 15.5h-5M70 25.5h5M684 25.5h-5M70 35.5h5M684 35.5h-5M70 45.5h5M684 45.5h-5M70 66.5h5M684 66.5h-5M70 76.5h5M684 76.5h-5M70 86.5h5M684 86.5h-5M70 96.5h5M684 96.5h-5M70 117.5h5M684 117.5h-5M70 127.5h5M684 127.5h-5M70 137.5h5M684 137.5h-5M70 147.5h5M684 147.5h-5M70 167.5h5M684 167.5h-5M70 177.5h5M684 177.5h-5M70 188.5h5M684 188.5h-5M70 198.5h5M684 198.5h-5M70 218.5h5M684 218.5h-5M70 228.5h5M684 228.5h-5M70 238.5h5M684 238.5h-5M70 248.5h5M684 248.5h-5M70 269.5h5M684 269.5h-5M70 279.5h5M684 279.5h-5M70 289.5h5M684 289.5h-5M70 299.5h5M684 299.5h-5M70 319.5h5M684 319.5h-5M70 330.5h5M684 330.5h-5M70 340.5h5M684 340.5h-5M70 350.5h5M684 350.5h-5M70 370.5h5M684 370.5h-5M70 380.5h5M684 380.5h-5" stroke="#666" stroke-width="1" fill="none"/>
<path d="M69.5 385v-10M69.5 6v10M162.5 385v-10M162.5 6v10M255.5 385v-10M255.5 6v10M349.5 385v-10M349.5 6v10M442.5 385v-10M442.5 6v10M535.5 385v-10M535.5 6v10M628.5 385v-10M628.5 6v10M70 5.5h10M684 5.5h-10M70 56.5h10M684 56.5h-10M70 106.5h10M684 106.5h-10M70 157.5h10M684 157.5h-10M70 208.5h10M684 208.5h-10M70 259.5h10M684 259.5h-10M70 309.5h10M684 309.5h-10M70 360.5h10M684 360.5h-10" stroke="#111" stroke-width="1" fill="none"/>
<path d="M69 385.9H685" stroke="#999" stroke-width="1.6" fill="none"/>
<path d="M69.5 386V5.5H684" stroke="#444" stroke-width="1" fill="none"/>
<path d="M684.5 5V386" stroke="#000" stroke-width="1" fill="none"/>
<g font-size="14.5">
<text x="56.3" y="9.8" text-anchor="end">0.6</text><text x="56.3" y="60.5" text-anchor="end">0.4</text><text x="56.3" y="111.3" text-anchor="end">0.2</text><text x="56.3" y="162.0" text-anchor="end">0.0</text><text x="56.3" y="212.7" text-anchor="end">–0.2</text><text x="56.3" y="263.5" text-anchor="end">–0.4</text><text x="56.3" y="314.2" text-anchor="end">–0.6</text><text x="56.3" y="365.0" text-anchor="end">–0.8</text>
<text x="71.1" y="411" text-anchor="middle">–6</text><text x="164.4" y="411" text-anchor="middle">–5</text><text x="257.6" y="411" text-anchor="middle">–4</text><text x="350.8" y="411" text-anchor="middle">–3</text><text x="444.0" y="411" text-anchor="middle">–2</text><text x="537.3" y="411" text-anchor="middle">–1</text><text x="630.5" y="411" text-anchor="middle">0</text>
<text x="359" y="429.3">Log <tspan class="ti" x="386.7">τ̂</tspan></text>
<text transform="translate(11,238.2) rotate(-90)">Index <tspan x="40.8">[</tspan><tspan x="44.8">C</tspan><tspan x="55.9" font-size="10" dy="2">P</tspan><tspan class="s" x="63.1" dy="-2">(</tspan><tspan class="ti" x="67.2">τ̂</tspan><tspan class="s" x="76">)</tspan><tspan x="80.8">]</tspan></text>
<text x="164.6" y="116.8" word-spacing="0.8">Index functions of the isobaric heat capacity</text>
<text y="137.4"><tspan x="164.9">C</tspan><tspan x="175.3" font-size="10" dy="2">P</tspan><tspan class="s" x="182.8" dy="-2">(</tspan><tspan class="ti" x="187.2">τ̂</tspan><tspan class="s" x="195.5">)</tspan><tspan x="199">, </tspan><tspan class="ti" x="206.7">τ̂ </tspan><tspan x="218">= </tspan><tspan x="231.7">|</tspan><tspan x="235.8">T </tspan><tspan x="247.6">/ </tspan><tspan x="257.2">T</tspan><tspan x="266.3" font-size="11" dy="3">c</tspan><tspan x="273" dy="-3">–</tspan><tspan x="281.8">1</tspan><tspan x="290">|</tspan><tspan x="292.6">, </tspan><tspan x="301.8">of </tspan><tspan x="318.7">methane</tspan></text>
</g>
<g font-size="12.5">
<text x="444.3" y="261.8">T &lt; <tspan x="466.5">T</tspan><tspan font-size="10" dy="2">c</tspan></text>
<text x="519" y="294.8">T &gt; <tspan x="541.1">T</tspan><tspan font-size="10" dy="2">c</tspan></text>
<text x="560.6" y="327.5">T<tspan font-size="9.5" dy="2">melt</tspan><tspan dy="-2"> = 90.69 K</tspan></text>
<text x="644.1" y="289.8">625 K</text>
<text x="444.5" y="355.8">1 / <tspan class="si">δ</tspan> <tspan x="471.6">–</tspan> <tspan x="481.8">1</tspan><tspan x="492.5">=</tspan><tspan x="504.5">–</tspan><tspan x="514.3">0.7912</tspan></text>
</g>
</svg>
</body></html>
